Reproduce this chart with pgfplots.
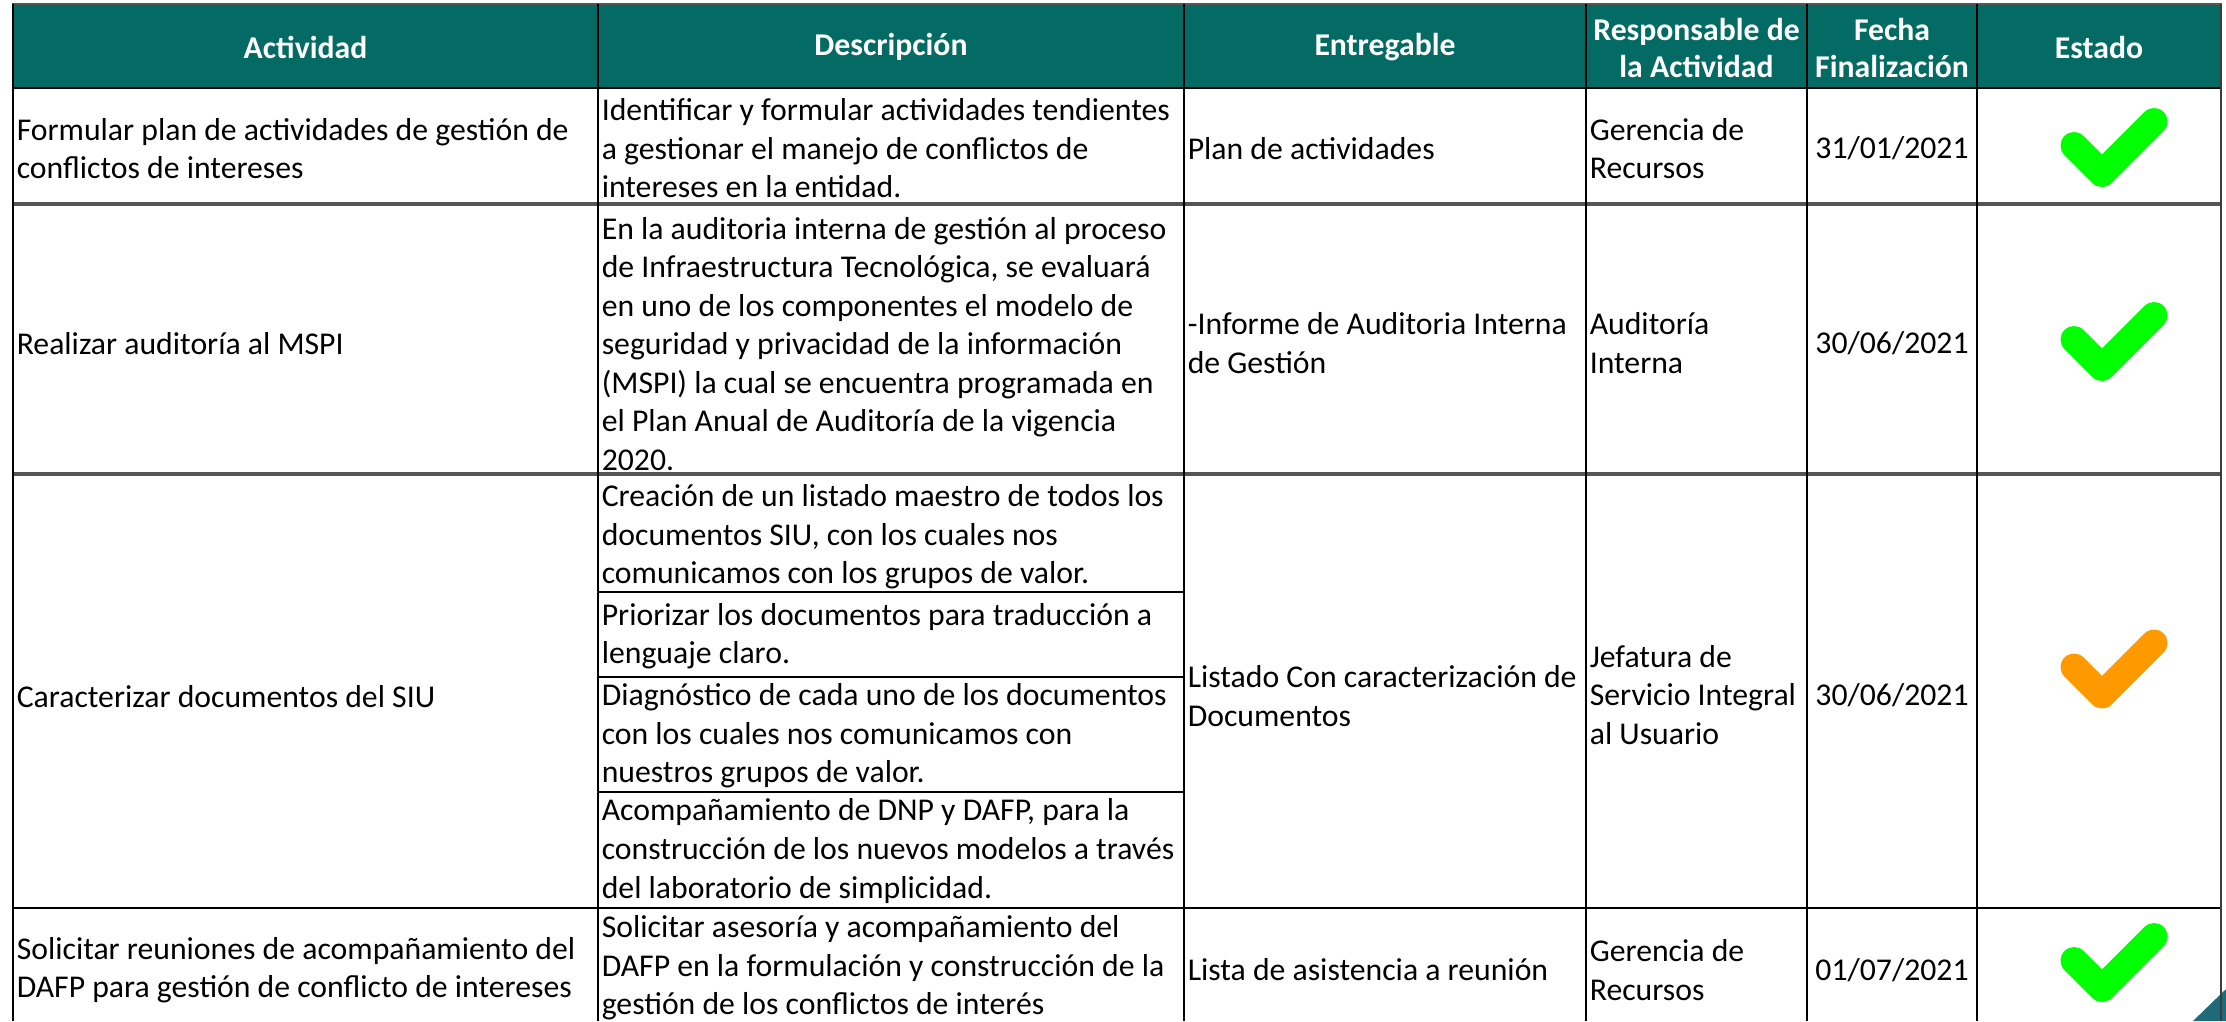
\documentclass[border=0pt]{standalone}
\usepackage{fontspec}
\setmainfont{Carlito}
\usepackage{pgfplots}
\pgfplotsset{compat=1.18}
\definecolor{hdr}{RGB}{3,107,99}
\definecolor{okc}{RGB}{0,255,0}
\definecolor{warnc}{RGB}{255,153,0}
\definecolor{rowline}{RGB}{85,85,85}
\definecolor{deco}{RGB}{30,106,120}
\tikzset{
  cell/.style={anchor=west, align=left, inner xsep=0.5pt, inner ysep=0pt, font=\fontsize{7.93}{9.63}\selectfont},
  ccell/.style={anchor=center, align=center, inner sep=0pt, font=\fontsize{7.93}{9.63}\selectfont},
  hcell/.style={anchor=center, align=center, inner sep=0pt, text=white, font=\fontsize{7.93}{9.2}\selectfont\bfseries},
}
\begin{document}
\begin{tikzpicture}
\begin{axis}[
  scale only axis, width=556.5pt, height=255.25pt,
  xmin=0, xmax=2226, ymin=0, ymax=1021, y dir=reverse,
  hide axis, clip=false,
]
\coordinate (bbll) at (axis cs:0,1021);
\coordinate (bbur) at (axis cs:2226,0);
% header background
\fill[hdr] (axis cs:13,4) rectangle (axis cs:2221,88);
\draw[rowline, line width=0.5pt] (axis cs:12,3.5) -- (axis cs:2222,3.5);
% decoration triangle
\fill[deco] (axis cs:2193,1021) -- (axis cs:2226,989) -- (axis cs:2226,1021) -- cycle;
% horizontal lines
\draw[black, line width=0.5pt] (axis cs:12,88) -- (axis cs:2222,88);
\draw[rowline, line width=0.8pt] (axis cs:12,204) -- (axis cs:2222,204);
\draw[rowline, line width=0.8pt] (axis cs:12,474) -- (axis cs:2222,474);
\draw[black, line width=0.5pt] (axis cs:12,908) -- (axis cs:2222,908);
\draw[black, line width=0.5pt] (axis cs:598,592) -- (axis cs:1184,592);
\draw[black, line width=0.5pt] (axis cs:598,677) -- (axis cs:1184,677);
\draw[black, line width=0.5pt] (axis cs:598,792) -- (axis cs:1184,792);
% vertical lines
\draw[black, line width=0.5pt] (axis cs:13,4) -- (axis cs:13,1021);
\draw[black, line width=0.5pt] (axis cs:598,4) -- (axis cs:598,1021);
\draw[black, line width=0.5pt] (axis cs:1184,4) -- (axis cs:1184,1021);
\draw[black, line width=0.5pt] (axis cs:1586,4) -- (axis cs:1586,1021);
\draw[black, line width=0.5pt] (axis cs:1807,4) -- (axis cs:1807,1021);
\draw[black, line width=0.5pt] (axis cs:1977,4) -- (axis cs:1977,1021);
\draw[rowline!70!black, line width=0.6pt] (axis cs:2221,4) -- (axis cs:2221,1021);
% header texts
\node[hcell] at (axis cs:305.5,47) {Actividad};
\node[hcell] at (axis cs:891,47) {Descripción};
\node[hcell] at (axis cs:1385,47) {Entregable};
\node[hcell] at (axis cs:1696.5,48) {Responsable de\\la Actividad};
\node[hcell] at (axis cs:1892,48) {Fecha\\Finalización};
\node[hcell] at (axis cs:2099,47) {Estado};
% row 1
\node[cell] at (axis cs:14,148.5) {Formular plan de actividades de gestión de\\conflictos de intereses};
\node[cell] at (axis cs:599,148.5) {Identificar y formular actividades tendientes\\a gestionar el manejo de conflictos de\\intereses en la entidad.};
\node[cell] at (axis cs:1185,148.5) {Plan de actividades};
\node[cell] at (axis cs:1587,148.5) {Gerencia de\\Recursos};
\node[ccell] at (axis cs:1892,148.5) {31/01/2021};
% row 2
\node[cell] at (axis cs:14,344) {Realizar auditoría al MSPI};
\node[cell] at (axis cs:599,344) {En la auditoria interna de gestión al proceso\\de Infraestructura Tecnológica, se evaluará\\en uno de los componentes el modelo de\\seguridad y privacidad de la información\\(MSPI) la cual se encuentra programada en\\el Plan Anual de Auditoría de la vigencia\\2020.};
\node[cell] at (axis cs:1185,343) {-Informe de Auditoria Interna\\de Gestión};
\node[cell] at (axis cs:1587,343) {Auditoría\\Interna};
\node[ccell] at (axis cs:1892,343) {30/06/2021};
% row 3
\node[cell] at (axis cs:14,697) {Caracterizar documentos del SIU};
\node[cell] at (axis cs:599,537) {Creación de un listado maestro de todos los\\documentos SIU, con los cuales nos\\comunicamos con los grupos de valor.};
\node[cell] at (axis cs:599,636) {Priorizar los documentos para traducción a\\lenguaje claro.};
\node[cell] at (axis cs:599,736) {Diagnóstico de cada uno de los documentos\\con los cuales nos comunicamos con\\nuestros grupos de valor.};
\node[cell] at (axis cs:599,851) {Acompañamiento de DNP y DAFP, para la\\construcción de los nuevos modelos a través\\del laboratorio de simplicidad.};
\node[cell] at (axis cs:1185,696) {Listado Con caracterización de\\Documentos};
\node[cell] at (axis cs:1587,695) {Jefatura de\\Servicio Integral\\al Usuario};
\node[ccell] at (axis cs:1892,695) {30/06/2021};
% row 4
\node[cell] at (axis cs:14,970) {Solicitar reuniones de acompañamiento del\\DAFP para gestión de conflicto de intereses};
\node[cell] at (axis cs:599,968) {Solicitar asesoría y acompañamiento del\\DAFP en la formulación y construcción de la\\gestión de los conflictos de interés};
\node[cell] at (axis cs:1185,970) {Lista de asistencia a reunión};
\node[cell] at (axis cs:1587,970) {Gerencia de\\Recursos};
\node[ccell] at (axis cs:1892,970) {01/07/2021};
% status checks
\addplot[okc, line width=6.75pt, line cap=round, line join=round] coordinates {(2074,145.5) (2102,173.5) (2154,121.5)};
\addplot[okc, line width=6.75pt, line cap=round, line join=round] coordinates {(2074,339.5) (2102,367.5) (2154,315.5)};
\addplot[warnc, line width=6.75pt, line cap=round, line join=round] coordinates {(2074,667) (2102,695) (2154,643)};
\addplot[okc, line width=6.75pt, line cap=round, line join=round] coordinates {(2074,960.5) (2102,988.5) (2154,936.5)};
\end{axis}
\pgfresetboundingbox
\useasboundingbox (bbll) rectangle (bbur);
\end{tikzpicture}
\end{document}
